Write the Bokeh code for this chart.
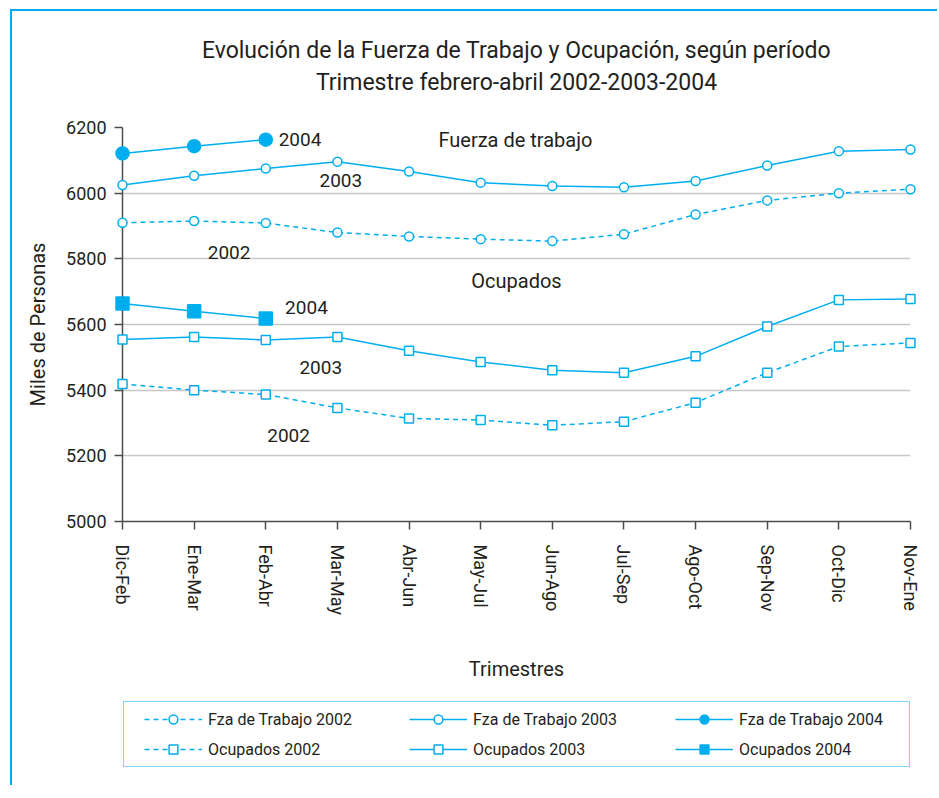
from bokeh.plotting import figure
from bokeh.layouts import column
from bokeh.models import Range1d, FixedTicker, Label, Legend, LegendItem
from bokeh.embed import file_html
from bokeh.resources import INLINE

# ---------------- data ----------------
periods = ["Dic-Feb", "Ene-Mar", "Feb-Abr", "Mar-May", "Abr-Jun", "May-Jul",
           "Jun-Ago", "Jul-Sep", "Ago-Oct", "Sep-Nov", "Oct-Dic", "Nov-Ene"]
fza_2002 = [5910, 5915, 5909, 5880, 5868, 5860, 5854, 5875, 5935, 5978, 6000, 6012]
fza_2003 = [6025, 6053, 6075, 6096, 6066, 6032, 6022, 6018, 6037, 6084, 6128, 6133]
fza_2004 = [6121, 6143, 6163]
ocu_2002 = [5419, 5400, 5387, 5346, 5314, 5309, 5293, 5304, 5362, 5453, 5533, 5544]
ocu_2003 = [5554, 5562, 5553, 5562, 5520, 5486, 5461, 5453, 5503, 5594, 5675, 5678]
ocu_2004 = [5664, 5640, 5618]
y_ticks = [5000, 5200, 5400, 5600, 5800, 6000, 6200]
title_lines = ["Evolución de la Fuerza de Trabajo y Ocupación, según período",
               "Trimestre febrero-abril 2002-2003-2004"]

FONT = "Roboto"
CY = "#00aeef"
TXT = "#231f20"
W = 925
FW = 788  # plot frame width; header/legend frames are aligned to it

x_all = list(range(len(periods)))

def bare(height):
    f = figure(width=W, height=height, x_range=Range1d(0, FW), y_range=Range1d(0, height),
               output_backend="svg", toolbar_location=None,
               x_axis_location=None, y_axis_location=None, min_border=0)
    f.grid.visible = False
    f.outline_line_color = None
    f.background_fill_color = "white"
    f.border_fill_color = "white"
    return f

# ---------------- header (title) ----------------
head = bare(94)
for yy, t in zip((55, 23), title_lines):
    head.add_layout(Label(x=FW / 2, y=yy, text=t, text_font=FONT, text_font_size="23px",
                          text_color=TXT, text_align="center", text_baseline="middle"))

# ---------------- main plot ----------------
p = figure(width=W, height=585, x_range=Range1d(0, len(periods) - 1),
           y_range=Range1d(y_ticks[0], y_ticks[-1]),
           output_backend="svg", toolbar_location=None,
           min_border_left=110, min_border_right=27, min_border_top=22,
           min_border_bottom=169)
p.outline_line_color = None
p.background_fill_color = "white"
p.border_fill_color = "white"

for ax in (p.xaxis[0], p.yaxis[0]):
    ax.axis_line_color = "#4d4d4d"
    ax.axis_line_width = 1.5
    ax.major_tick_line_color = "#4d4d4d"
    ax.major_tick_line_width = 1.5
    ax.major_tick_in = 0
    ax.major_tick_out = 8
    ax.minor_tick_line_color = None
    ax.major_label_text_font = FONT
    ax.major_label_text_font_size = "18px"
    ax.major_label_text_color = TXT
    ax.axis_label_text_font = FONT
    ax.axis_label_text_font_size = "20px"
    ax.axis_label_text_font_style = "normal"
    ax.axis_label_text_color = TXT

p.xaxis.ticker = FixedTicker(ticks=x_all)
p.xaxis.major_label_overrides = {i: s for i, s in enumerate(periods)}
p.xaxis.major_label_orientation = "vertical"
p.xaxis.major_label_standoff = 15
p.xaxis.axis_label = "Trimestres"
p.xaxis.axis_label_standoff = 39

p.yaxis.ticker = FixedTicker(ticks=y_ticks)
p.yaxis.major_label_standoff = 8
p.yaxis.axis_label = "Miles de Personas"
p.yaxis.axis_label_standoff = 13

p.xgrid.visible = False
p.ygrid.ticker = FixedTicker(ticks=y_ticks)
p.ygrid.grid_line_color = "#c8c8c8"
p.ygrid.grid_line_width = 1.5

STY = {
    "f02": dict(dash="5 4", marker="circle", size=9, filled=False),
    "f03": dict(dash="solid", marker="circle", size=9, filled=False),
    "f04": dict(dash="solid", marker="circle", size=13, filled=True),
    "o02": dict(dash="5 4", marker="square", size=9, filled=False),
    "o03": dict(dash="solid", marker="square", size=9, filled=False),
    "o04": dict(dash="solid", marker="square", size=13, filled=True),
}

def series(fig, xs, ys, key, level="overlay"):
    s = STY[key]
    ln = fig.line(xs, ys, line_color=CY, line_width=1.5, line_dash=s["dash"])
    sc = fig.scatter(xs, ys, marker=s["marker"], size=s["size"],
                     fill_color=CY if s["filled"] else "white",
                     line_color=CY, line_width=1.5, level=level)
    return [ln, sc]

SERIES = {
    "f02": (x_all, fza_2002),
    "f03": (x_all, fza_2003),
    "f04": (x_all[:len(fza_2004)], fza_2004),
    "o02": (x_all, ocu_2002),
    "o03": (x_all, ocu_2003),
    "o04": (x_all[:len(ocu_2004)], ocu_2004),
}
for k, (xs, ys) in SERIES.items():
    series(p, xs, ys, k)

def lab(x, y, t, size="19px", align="left"):
    p.add_layout(Label(x=x, y=y, text=t, text_font=FONT, text_font_size=size,
                       text_color=TXT, text_align=align, text_baseline="middle"))

lab(2.18, 6163, "2004")
lab(2.75, 6038, "2003")
lab(1.19, 5819, "2002")
lab(4.41, 6163, "Fuerza de trabajo", "20px")
lab(5.5, 5734, "Ocupados", "20px", "center")
lab(2.27, 5652, "2004")
lab(2.47, 5469, "2003")
lab(2.02, 5262, "2002")

# ---------------- legend strip ----------------
# legend-only renderers: same series, which fall far outside this strip's ranges
leg = bare(95)
dummy = leg.line([0, 1], [-1000, -1000], line_alpha=0)
leg.add_layout(Legend(items=[LegendItem(label=" ", renderers=[dummy])],
                      location=(1, 18), padding=0, margin=0, spacing=0,
                      glyph_width=1, glyph_height=1, label_standoff=0,
                      label_width=784, label_height=64,
                      border_line_color=CY, border_line_width=1.5,
                      background_fill_color="white", background_fill_alpha=1.0))

cols = [
    [("Fza de Trabajo 2002", "f02"), ("Ocupados 2002", "o02")],
    [("Fza de Trabajo 2003", "f03"), ("Ocupados 2003", "o03")],
    [("Fza de Trabajo 2004", "f04"), ("Ocupados 2004", "o04")],
]
for cx, items in zip((22, 287, 553), cols):
    lg = Legend(items=[LegendItem(label=l, renderers=series(leg, *SERIES[k], k, level="glyph"))
                       for l, k in items],
                location=(cx, 25), orientation="vertical",
                padding=0, margin=0, spacing=8,
                glyph_width=58, glyph_height=22, label_standoff=6,
                label_height=22, label_text_font=FONT,
                label_text_font_size="16px", label_text_color=TXT,
                border_line_alpha=0, background_fill_alpha=0)
    leg.add_layout(lg)

page = column(head, p, leg, spacing=0)
page.styles = {"margin-top": "9px", "margin-left": "10px",
               "border-top": "2px solid " + CY, "border-left": "2px solid " + CY}

open("out.html", "w").write(file_html(page, INLINE))
